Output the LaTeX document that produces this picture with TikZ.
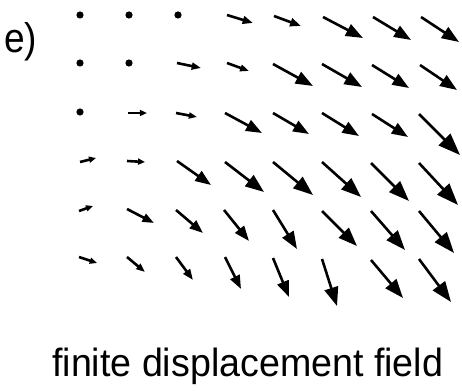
\documentclass[tikz,border=0pt]{standalone}
\usepackage{fontspec}
\setmainfont{Liberation Sans}
\usetikzlibrary{arrows.meta}
\begin{document}
\begin{tikzpicture}[x=1pt,y=-1pt,
  vec/.style={line width=2.6pt},
  zerodot/.style={fill=black},
  txt/.style={inner sep=0pt,anchor=base west}]
\useasboundingbox (0,0) rectangle (462,390);
% grid points with zero displacement
\foreach \x/\y [count=\i] in {80/15,129/15,178/15,80/63,129/63,80/112}
  \fill[zerodot] (\x,\y) coordinate (z\i) circle (3.6);
% displacement vectors: tail x/y, tip x/y
\foreach \a/\b/\c/\d [count=\i] in {
  227/15/253/23, 274/16/301/26, 323/17/363/38, 373/17/411/40, 421/17/459/42,
  177/63/201/68, 227/63/249/71, 273/64/313/86, 322/64/362/87, 372/65/409/88, 420/65/457/90,
  128/113/147/113, 176/113/197/117, 225/113/262/133, 273/113/309/134, 322/113/359/136, 372/114/408/137, 419/114/460/155,
  80/162/96/158, 127/161/145/162, 177/161/211/185, 225/162/264/192, 273/162/313/195, 322/162/361/197, 371/163/409/201, 419/163/458/205,
  79/211/93/206, 127/209/154/223, 176/210/203/233, 224/210/249/241, 273/210/297/249, 322/211/357/246, 371/211/405/250, 419/211/454/253,
  79/257/97/263, 127/257/145/272, 176/257/193/280, 225/257/241/289, 273/258/289/297, 322/259/337/306, 371/260/403/298, 419/259/451/302}
{
  \pgfmathsetmacro\L{veclen(\c-\a,\d-\b)}
  \pgfmathsetmacro\hl{max(7,0.38*\L)}
  \pgfmathsetmacro\hw{max(6,0.28*\L)}
  \coordinate (t\i) at (\a,\b);
  \coordinate (h\i) at (\c,\d);
  \draw[vec,-{Triangle[length=\hl pt,width=\hw pt]}] (t\i) -- (h\i);
}
\node[txt] (lab) at (4,53) {\resizebox{33pt}{30pt}{e)}};
\node[txt] (cap) at (52,376.5) {\resizebox{391pt}{28.5pt}{finite displacement field}};
\end{tikzpicture}
\end{document}
